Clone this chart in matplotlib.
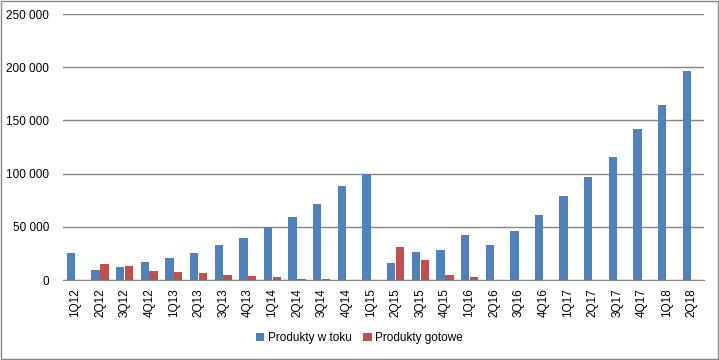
import matplotlib
matplotlib.use("Agg")
import matplotlib.pyplot as plt
import numpy as np
from matplotlib.ticker import FuncFormatter
from matplotlib.patches import Rectangle

kwartaly = ["1Q12", "2Q12", "3Q12", "4Q12", "1Q13", "2Q13", "3Q13", "4Q13",
            "1Q14", "2Q14", "3Q14", "4Q14", "1Q15", "2Q15", "3Q15", "4Q15",
            "1Q16", "2Q16", "3Q16", "4Q16", "1Q17", "2Q17", "3Q17", "4Q17",
            "1Q18", "2Q18"]

w_toku = [25700, 9700, 12500, 17200, 21000, 25700, 33200, 39800,
          49800, 59500, 71700, 88700, 99300, 16300, 26600, 28500,
          42600, 33200, 46400, 61400, 79300, 97100, 115900, 142200,
          164800, 196700]

gotowe = [0, 15300, 13500, 8800, 7800, 6900, 5000, 4100,
          3100, 1300, 1300, 0, 0, 31300, 19100, 5000,
          3100, 0, 0, 0, 0, 0, 0, 0,
          0, 0]

plt.rcParams["font.family"] = ["Liberation Sans", "DejaVu Sans"]

fig = plt.figure(figsize=(7.19, 3.6), dpi=100)
ax = fig.add_axes([0.0876, 0.222, 0.891, 0.739])

x = np.arange(len(kwartaly))
ax.bar(x - 0.18, w_toku, width=0.34, color="#4F81BD", label="Produkty w toku", zorder=3)
ax.bar(x + 0.18, gotowe, width=0.34, color="#C0504D", label="Produkty gotowe", zorder=3)

ax.set_xlim(-0.5, len(kwartaly) - 0.5)
ax.set_ylim(0, 250000)
ax.set_yticks(np.arange(0, 250001, 50000))
ax.yaxis.set_major_formatter(FuncFormatter(lambda v, p: f"{int(v):,}".replace(",", " ")))
ax.set_xticks(x)
ax.set_xticklabels(kwartaly, rotation=90, fontsize=8.5)
ax.tick_params(axis="y", length=0, labelsize=8.5, pad=10)
ax.tick_params(axis="x", length=0, pad=6)
ax.grid(axis="y", color="#868686", linewidth=1, zorder=0)
for s in ["top", "right", "left"]:
    ax.spines[s].set_visible(False)
ax.spines["bottom"].set_color("#868686")
ax.spines["bottom"].set_zorder(4)

fig.legend(loc="center", bbox_to_anchor=(0.5, 0.06), ncol=2, frameon=False,
           fontsize=8.5, handlelength=0.7, handleheight=0.7, handletextpad=0.3,
           columnspacing=1.0)

fig.patches.append(Rectangle((0.001, 0.002), 0.997, 0.995, transform=fig.transFigure,
                             fill=False, edgecolor="#868686", linewidth=1))

fig.savefig("out.png", dpi=100)
